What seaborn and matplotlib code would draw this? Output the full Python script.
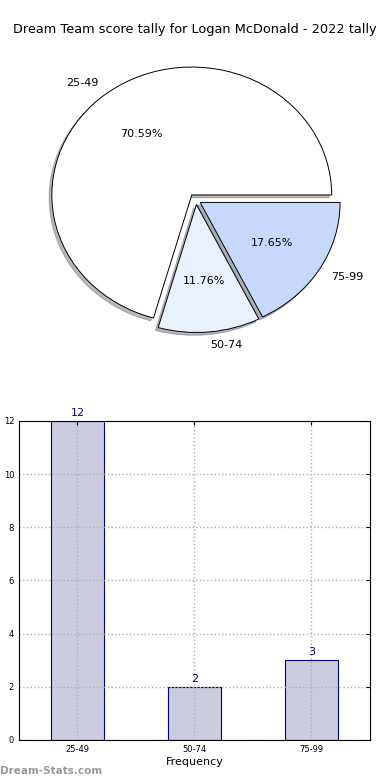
import matplotlib
matplotlib.use("Agg")
import matplotlib.pyplot as plt
import seaborn as sns
import pandas as pd

# data
categories = ["25-49", "50-74", "75-99"]
counts = [12, 2, 3]
pie_colors = ["#ffffff", "#eaf1fe", "#c6d9fd"]

title = "Dream Team score tally for Logan McDonald - 2022 tally"

sns.set_style("white")
plt.rcParams['font.family'] = ['DejaVu Sans']
plt.rcParams['text.color'] = 'black'
plt.rcParams['axes.labelcolor'] = 'black'
plt.rcParams['xtick.color'] = 'black'
plt.rcParams['ytick.color'] = 'black'

fig = plt.figure(figsize=(3.9, 7.8), dpi=100)
fig.text(0.5, 1 - 30 / 780, title, ha='center', va='center', fontsize=9.3)

# pie chart (elliptical, like the old renderer)
ax1 = fig.add_axes([0.054, 0.5385, 0.897, 0.41])
ax1.pie(counts, labels=categories, colors=pie_colors, autopct='%1.2f%%',
        explode=[0.05, 0.035, 0.035],
        shadow={'ox': -0.014, 'oy': -0.016, 'shade': 0.55},
        startangle=0,
        wedgeprops={'edgecolor': 'black', 'linewidth': 0.7},
        textprops={'fontsize': 8})
ax1.set_aspect('auto')
ax1.set_xlim(-1.25, 1.25)
ax1.set_ylim(-1.25, 1.25)
ax1.axis('off')

# bar chart
df = pd.DataFrame({'range': categories, 'count': counts})
ax2 = fig.add_axes([0.0487, 0.0513, 0.9, 0.409])
sns.barplot(data=df, x='range', y='count', ax=ax2, color='#ccccdf',
            edgecolor='navy', linewidth=0.8, width=0.45, saturation=1, zorder=1)
ax2.set_xlim(-0.5, 2.5)
ax2.set_ylim(0, 12)
ax2.set_yticks(range(0, 13, 2))
ax2.grid(True, linestyle=':', color='#b0b0b0', linewidth=1, zorder=2)
ax2.set_axisbelow(False)
for p in ax2.patches:
    p.set_zorder(1)
ax2.tick_params(axis='both', labelsize=6, direction='in', length=3,
                top=True, right=True)
for i, v in enumerate(counts):
    ax2.text(i, v + 0.12, str(v), ha='center', va='bottom', color='navy', fontsize=8)
ax2.set_xlabel('Frequency', fontsize=8, labelpad=2)
ax2.set_ylabel('Score Tally', fontsize=8)
ax2.yaxis.set_label_coords(-0.075, 0.5)
for s in ax2.spines.values():
    s.set_color('black')
    s.set_linewidth(0.8)
    s.set_zorder(5)

fig.text(0.0, 1 - 771 / 780, 'Dream-Stats.com', ha='left', va='center',
         fontsize=7.5, color='#999999', fontweight='bold')

fig.savefig('out.png', dpi=100)
